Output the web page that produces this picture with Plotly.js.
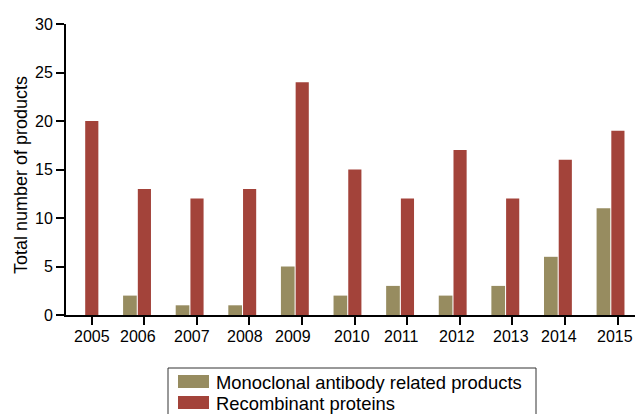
<!DOCTYPE html>
<html>
<head>
<meta charset="utf-8">
<script src="https://cdn.plot.ly/plotly-3.0.1.min.js"></script>
<style>html,body{margin:0;padding:0;background:#fff;}#chart{width:635px;height:414px;}</style>
</head>
<body>
<div id="chart"></div>
<script>
// ---- data ----
const years = [2005, 2006, 2007, 2008, 2009, 2010, 2011, 2012, 2013, 2014, 2015];
const yearLabels = ["2005", "2006", "2007", "2008", "2009", "2010", "2011", "2012", "2013", "2014", "2015"];
const monoclonal = [0, 2, 1, 1, 5, 2, 3, 2, 3, 6, 11];
const recombinant = [20, 13, 12, 13, 24, 15, 12, 17, 12, 16, 19];
const seriesNames = ["Monoclonal antibody related products", "Recombinant proteins"];
const seriesColors = ["#978c60", "#a3433a"];
const yTitle = "Total number of products";

// ---- layout helpers (style, not data) ----
const W = 635, H = 414;
const M = {l: 66, r: 0, t: 24, b: 99};
const PW = W - M.l - M.r, PH = H - M.t - M.b;
const px = x => (x - M.l) / PW;
const py = y => (H - M.b - y) / PH;
const labelShift = [0.01, -0.12, -0.09, -0.08, -0.17, -0.04, -0.11, -0.06, -0.03, -0.12, -0.05];
const font = "Liberation Sans, Arial, Helvetica, sans-serif";

const traces = [
  {type: "bar", x: years, y: monoclonal, name: seriesNames[0],
   marker: {color: seriesColors[0], line: {width: 0}}, offset: -0.40, width: 0.26, showlegend: false},
  {type: "bar", x: years, y: recombinant, name: seriesNames[1],
   marker: {color: seriesColors[1], line: {width: 0}}, offset: -0.12, width: 0.25, showlegend: false}
];

const annotations = years.map((yr, i) => ({
  x: yr + labelShift[i], y: 0, xref: "x", yref: "y", text: yearLabels[i],
  showarrow: false, xanchor: "center", yanchor: "top", yshift: -11,
  font: {family: font, size: 16, color: "#000"}
}));
annotations.push({
  x: px(21), y: py(175), xref: "paper", yref: "paper", text: yTitle, textangle: -90,
  showarrow: false, xanchor: "center", yanchor: "middle",
  font: {family: font, size: 18, color: "#000"}
});
const legendRows = [382, 403];
seriesNames.forEach((n, i) => {
  annotations.push({
    x: px(214), y: py(legendRows[i]), xref: "paper", yref: "paper", text: n,
    showarrow: false, xanchor: "left", yanchor: "middle",
    font: {family: font, size: 18.4, color: "#000"}
  });
});

const shapes = [
  {type: "rect", xref: "paper", yref: "paper", x0: px(168), x1: px(536), y0: py(368), y1: py(430),
   line: {color: "#333", width: 1}, fillcolor: "rgba(0,0,0,0)"}
];
seriesColors.forEach((c, i) => {
  shapes.push({type: "rect", xref: "paper", yref: "paper", x0: px(178), x1: px(209),
    y0: py(legendRows[i] - 7), y1: py(legendRows[i] + 6), line: {width: 0}, fillcolor: c});
});

const layout = {
  width: W, height: H, margin: M,
  paper_bgcolor: "#fff", plot_bgcolor: "#fff",
  barmode: "overlay", showlegend: false,
  font: {family: font, size: 16, color: "#000"},
  xaxis: {range: [2004.515, 2015.33], tickvals: years, showticklabels: false,
    ticks: "outside", ticklen: 8, tickwidth: 2, tickcolor: "#000",
    showline: true, linecolor: "#000", linewidth: 2, showgrid: false, zeroline: false, fixedrange: true},
  yaxis: {range: [0, 30], tickvals: [0, 5, 10, 15, 20, 25, 30],
    ticks: "outside", ticklen: 8, tickwidth: 2, tickcolor: "#000",
    showline: true, linecolor: "#000", linewidth: 2, showgrid: false, zeroline: false,
    tickfont: {family: font, size: 16, color: "#000"}, fixedrange: true},
  annotations: annotations, shapes: shapes
};

Plotly.newPlot("chart", traces, layout, {displayModeBar: false, staticPlot: true});
</script>
</body>
</html>
